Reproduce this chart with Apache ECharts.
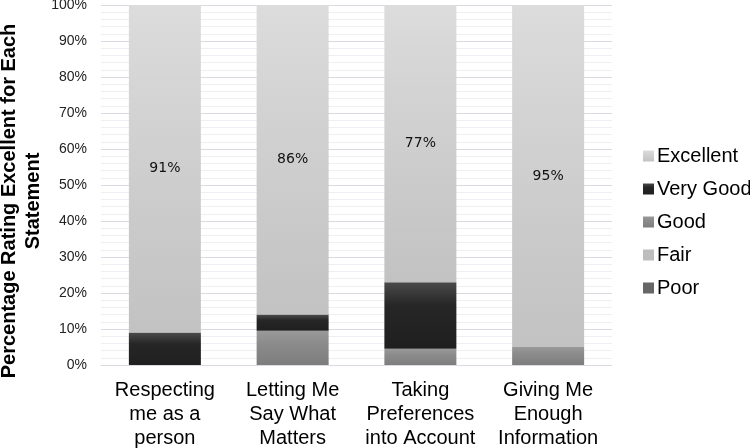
<!DOCTYPE html>
<html><head><meta charset="utf-8">
<script src="https://cdn.jsdelivr.net/npm/echarts@6/dist/echarts.min.js"></script>
<style>html,body{margin:0;padding:0;background:#fff}#c{width:750px;height:448px}</style>
</head><body><div id="c"></div>
<script>
const categories = ['Respecting\nme as a\nperson', 'Letting Me\nSay What\nMatters', 'Taking\nPreferences\ninto Account', 'Giving Me\nEnough\nInformation'];
const poor = [0, 0, 0, 0];
const fair = [0, 0, 0, 0];
const good = [0, 9.5, 4.5, 5];
const veryGood = [9, 4.5, 18.5, 0];
const excellent = [91, 86, 77, 95];
const yTicks = [0, 10, 20, 30, 40, 50, 60, 70, 80, 90, 100];
const yTitle = 'Percentage Rating Excellent for Each\nStatement';

function grad(top, mid, bottom) {
  return new echarts.graphic.LinearGradient(0, 0, 0, 1, [
    {offset: 0, color: top}, {offset: 0.35, color: mid}, {offset: 1, color: bottom}
  ]);
}
const chart = echarts.init(document.getElementById('c'), null, {renderer: 'canvas'});
const base = {type: 'bar', stack: 'all', barWidth: 72};
chart.setOption({
  animation: false,
  textStyle: {fontFamily: 'Liberation Sans, Arial, sans-serif'},
  grid: {left: 101, right: 138, top: 5, bottom: 83, containLabel: false, outerBoundsMode: 'none'},
  graphic: [{
    type: 'text', x: 21, y: 201, rotation: Math.PI / 2,
    style: {text: yTitle, font: 'bold 20px Liberation Sans, Arial, sans-serif', fill: '#000',
      align: 'center', verticalAlign: 'middle', lineHeight: 24}
  }],
  legend: {
    orient: 'vertical', left: 638, top: 141, itemGap: 13,
    itemWidth: 11, itemHeight: 11, icon: 'rect',
    data: ['Excellent', 'Very Good', 'Good', 'Fair', 'Poor'],
    itemStyle: {borderWidth: 0},
    textStyle: {fontSize: 20, color: '#000', padding: [0, 0, 0, -2]}
  },
  xAxis: {
    type: 'category', data: categories,
    axisLine: {show: true, lineStyle: {color: '#d9dbe3'}},
    axisTick: {show: false},
    axisLabel: {fontSize: 20, color: '#000', lineHeight: 24, margin: 13, interval: 0}
  },
  yAxis: {
    type: 'value', min: 0, max: 100, interval: 10,
    axisLine: {show: false}, axisTick: {show: false},
    axisLabel: {fontSize: 14, color: '#222', margin: 14, formatter: v => yTicks.includes(v) ? v + '%' : ''},
    splitLine: {lineStyle: {color: '#d9dbe3', width: 1.2}},
    minorTick: {show: false, splitNumber: 5},
    minorSplitLine: {show: true, lineStyle: {color: '#eeeff2', width: 1}}
  },
  series: [
    Object.assign({}, base, {name: 'Poor', data: poor, itemStyle: {color: '#666666'}}),
    Object.assign({}, base, {name: 'Fair', data: fair, itemStyle: {color: '#bdbdbd'}}),
    Object.assign({}, base, {name: 'Good', data: good, itemStyle: {color: grad('#9a9a9a', '#8c8c8c', '#7d7d7d')}}),
    Object.assign({}, base, {name: 'Very Good', data: veryGood, itemStyle: {color: grad('#4a4a4a', '#262626', '#1f1f1f')}}),
    Object.assign({}, base, {name: 'Excellent', data: excellent, itemStyle: {color: grad('#dcdcdc', '#d2d2d2', '#c2c2c2')},
      label: {show: true, position: 'inside', fontSize: 14, color: '#111', fontFamily: 'DejaVu Sans', formatter: p => p.value + '%'}})
  ]
});
</script></body></html>
